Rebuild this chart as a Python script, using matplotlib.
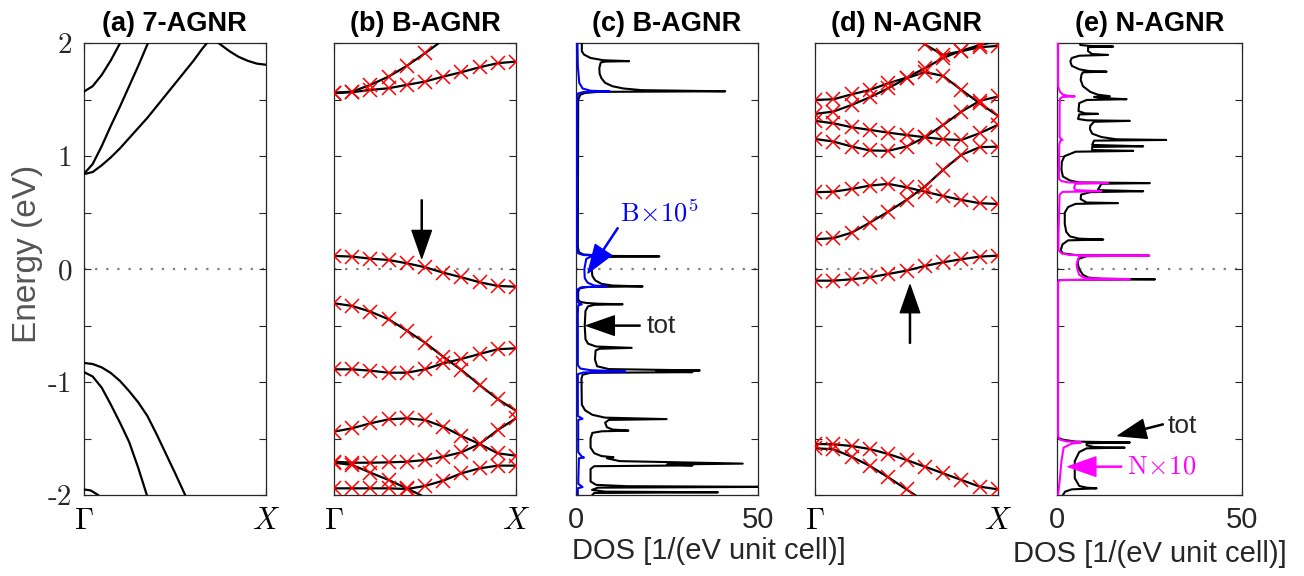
import numpy as np
import matplotlib
matplotlib.use("Agg")
import matplotlib.pyplot as plt

plt.rcParams['font.family'] = ['Liberation Sans', 'DejaVu Sans']
plt.rcParams['mathtext.fontset'] = 'cm'

# ---------------- data ----------------
# (a) pristine 7-AGNR bands: k (0=Gamma,1=X), E (eV)
a_k1 = [0, 0.05, 0.10, 0.15, 0.20, 0.25, 0.30, 0.35, 0.37]
a_e1 = [0.84, 0.93, 1.09, 1.27, 1.44, 1.62, 1.80, 1.99, 2.06]
a_k2 = [0, 0.05, 0.10, 0.15, 0.20, 0.25, 0.30, 0.35, 0.40, 0.45, 0.50, 0.55, 0.60, 0.65, 0.70]
a_e2 = [0.84, 0.86, 0.92, 0.99, 1.07, 1.16, 1.25, 1.34, 1.44, 1.54, 1.64, 1.74, 1.84, 1.95, 2.05]
a_k3 = [0, 0.05, 0.10, 0.15, 0.20, 0.22]
a_e3 = [1.57, 1.62, 1.72, 1.85, 2.00, 2.06]
a_k4 = [0.70, 0.75, 0.80, 0.85, 0.90, 0.95, 1.00]
a_e4 = [2.05, 1.99, 1.93, 1.88, 1.845, 1.82, 1.81]
a_k5 = [0, 0.05, 0.10, 0.15, 0.20, 0.25, 0.30, 0.35, 0.40, 0.45, 0.50, 0.557, 0.58]
a_e5 = [-0.83, -0.84, -0.87, -0.92, -0.99, -1.08, -1.18, -1.30, -1.46, -1.63, -1.80, -2.00, -2.08]
a_k6 = [0, 0.05, 0.10, 0.15, 0.20, 0.25, 0.30, 0.347, 0.37]
a_e6 = [-0.91, -0.95, -1.05, -1.20, -1.36, -1.53, -1.76, -2.00, -2.10]
a_k7 = [0, 0.04, 0.08, 0.10]
a_e7 = [-1.95, -1.96, -2.00, -2.03]

k11 = [0, 0.1, 0.2, 0.3, 0.4, 0.5, 0.6, 0.7, 0.8, 0.9, 1.0]

# (b) B-AGNR bands
b_c1 = [1.563, 1.572, 1.632, 1.705, 1.800, 1.912, 2.03]
b_c2 = [1.558, 1.567, 1.587, 1.602, 1.632, 1.661, 1.705, 1.744, 1.788, 1.824, 1.838]
b_v0 = [0.117, 0.111, 0.093, 0.081, 0.052, 0.017, -0.031, -0.072, -0.116, -0.149, -0.155]
b_v1 = [-0.302, -0.326, -0.376, -0.444, -0.544, -0.651, -0.775, -0.893, -1.026, -1.152, -1.253]
b_v2 = [-0.887, -0.887, -0.899, -0.917, -0.917, -0.887, -0.834, -0.795, -0.751, -0.709, -0.701]
b_v3 = [-1.439, -1.409, -1.365, -1.330, -1.321, -1.336, -1.395, -1.477, -1.548, -1.631, -1.652]
b_v4 = [-1.705, -1.714, -1.714, -1.711, -1.705, -1.690, -1.661, -1.622, -1.548, -1.424, -1.321]
b_v5 = [-1.714, -1.734, -1.802, -1.867, -1.941, -2.02]
b_v6 = [-1.941, -1.941, -1.941, -1.941, -1.947, -1.920, -1.873, -1.808, -1.764, -1.740, -1.740]

# (d) N-AGNR bands
d_c0 = [None, None, None, None, None, 2.12, 1.99, 1.897, 1.93, 1.965, 1.977]
d_c1 = [1.499, 1.504, 1.548, 1.587, 1.646, 1.696, 1.779, 1.870, 1.935, 1.985, 2.02]
d_c2 = [1.375, 1.395, 1.454, 1.522, 1.602, 1.690, 1.745, 1.711, 1.587, 1.469, 1.357]
d_c3 = [1.313, 1.292, 1.257, 1.233, 1.209, 1.188, 1.168, 1.150, 1.144, 1.204, 1.278]
d_c4 = [1.153, 1.130, 1.086, 1.051, 1.048, 1.086, 1.168, 1.277, 1.395, 1.490, 1.529]
d_c5 = [0.681, 0.686, 0.710, 0.740, 0.755, 0.725, 0.686, 0.648, 0.613, 0.584, 0.577]
d_c6 = [0.265, 0.274, 0.323, 0.412, 0.509, 0.613, 0.731, 0.879, 1.012, 1.080, 1.085]
d_v0 = [-0.102, -0.102, -0.090, -0.072, -0.043, -0.013, 0.028, 0.061, 0.088, 0.111, 0.120]
d_v1 = [-1.548, -1.551, -1.566, -1.593, -1.637, -1.690, -1.749, -1.808, -1.867, -1.926, -1.950]
d_v2 = [-1.586, -1.595, -1.661, -1.743, -1.843, -1.950, -2.06]

# (c) B-AGNR DOS: total and B-projected (x1e5)
c_tot_E = [2.00, 1.93, 1.90, 1.87, 1.85, 1.842, 1.838, 1.83, 1.78, 1.73, 1.69, 1.65, 1.62, 1.60,
           1.585, 1.575, 1.570, 1.560, 1.545, 1.50, 0.20, 0.15, 0.13, 0.118, 0.113, 0.108, 0.095,
           0.06, 0.00, -0.06, -0.10, -0.13, -0.145, -0.153, -0.158, -0.17, -0.20, -0.27, -0.29,
           -0.30, -0.306, -0.311, -0.316, -0.33, -0.37, -0.50, -0.62, -0.66, -0.685, -0.697,
           -0.705, -0.72, -0.80, -0.86, -0.885, -0.897, -0.905, -0.912, -0.918, -0.935, -0.97,
           -1.20, -1.25, -1.29, -1.315, -1.328, -1.335, -1.36, -1.40, -1.42, -1.43, -1.436, -1.45,
           -1.50, -1.58, -1.63, -1.655, -1.666, -1.675, -1.70, -1.722, -1.73, -1.738, -1.745,
           -1.77, -1.88, -1.91, -1.922, -1.928, -1.935, -1.955, -1.97, -1.976, -1.982, -2.00]
c_tot_D = [1.6, 1.6, 2.2, 4.0, 7.5, 14.6, 8.0, 6.8, 6.4, 6.5, 7.0, 8.0, 10.0, 13.0,
           18.0, 41.0, 6.0, 2.5, 1.2, 0.6, 0.5, 0.8, 2.0, 8.0, 22.9, 9.0, 6.0,
           4.7, 4.3, 4.5, 5.3, 7.0, 10.0, 18.3, 3.0, 1.0, 0.6, 0.6, 1.2,
           3.0, 6.0, 12.8, 5.0, 3.3, 2.6, 2.4, 2.6, 3.3, 5.5, 15.3,
           6.5, 5.4, 5.2, 5.8, 9.0, 34.0, 22.0, 32.0, 4.0, 1.8, 1.5,
           1.6, 2.5, 4.5, 8.0, 24.9, 9.0, 8.0, 8.5, 10.0, 14.4, 7.0, 4.5,
           4.0, 4.0, 5.0, 7.0, 10.3, 8.5, 12.0, 45.8, 25.0, 32.0, 5.0,
           4.0, 4.0, 5.5, 14.0, 55.0, 6.0, 4.4, 8.0, 39.0, 5.0, 4.5]
c_B_E = [2.00, 1.80, 1.65, 1.60, 1.58, 1.574, 1.568, 1.555, 1.45, 0.20, 0.14, 0.125, 0.117, 0.110,
         0.09, 0.0, -0.08, -0.12, -0.145, -0.153, -0.16, -0.18, -0.29, -0.305, -0.311, -0.32,
         -0.40, -0.85, -0.88, -0.895, -0.905, -0.915, -0.93, -1.30, -1.325, -1.335, -1.62,
         -1.66, -1.668, -1.675, -1.90, -1.93, -1.94, -2.00]
c_B_D = [0.4, 0.5, 0.9, 1.8, 4.0, 9.3, 2.0, 0.5, 0.3, 0.3, 0.6, 2.0, 9.5, 4.0,
         2.8, 2.3, 2.4, 3.2, 5.0, 8.4, 1.5, 0.4, 0.4, 1.0, 1.6, 0.6,
         0.5, 0.5, 1.2, 4.0, 13.5, 2.0, 0.5, 0.5, 1.8, 0.6, 0.6,
         1.6, 2.2, 0.8, 0.6, 1.8, 0.5, 0.5]

# (e) N-AGNR DOS: total and N-projected (x10)
e_tot_E = [2.00, 1.985, 1.976, 1.971, 1.966, 1.93, 1.905, 1.897, 1.89, 1.87, 1.84, 1.80, 1.77,
           1.755, 1.749, 1.743, 1.72, 1.676, 1.62, 1.57, 1.545, 1.531, 1.525, 1.515, 1.505, 1.498,
           1.47, 1.40, 1.38, 1.375, 1.37, 1.33, 1.318, 1.313, 1.305, 1.27, 1.24, 1.20, 1.17, 1.15,
           1.144, 1.138, 1.10, 1.088, 1.082, 1.055, 1.047, 1.040, 1.00, 0.95, 0.88, 0.82, 0.785,
           0.768, 0.762, 0.756, 0.70, 0.69, 0.682, 0.66, 0.62, 0.59, 0.585, 0.578, 0.55, 0.50,
           0.40, 0.33, 0.29, 0.27, 0.262, 0.255, 0.22, 0.17, 0.14, 0.125, 0.12, 0.115, 0.09, 0.05,
           0.0, -0.05, -0.075, -0.085, -0.09, -0.096, -0.105, -1.49, -1.51, -1.527, -1.535,
           -1.542, -1.56, -1.575, -1.581, -1.587, -1.62, -1.70, -1.85, -1.92, -1.935, -1.941,
           -1.95, -1.97, -2.00]
e_tot_D = [6.2, 6.3, 9.0, 15.2, 8.4, 8.4, 9.5, 13.8, 6.0, 4.0, 3.6, 4.0, 6.0,
           8.5, 13.4, 7.0, 6.6, 6.4, 7.0, 9.0, 11.0, 14.3, 10.0, 12.0, 18.8, 8.0,
           6.0, 5.8, 7.5, 11.1, 6.0, 5.7, 8.0, 19.7, 10.0, 9.0, 8.9, 9.5, 12.0, 16.0,
           29.5, 10.0, 9.5, 23.3, 9.5, 9.5, 20.6, 5.0, 2.0, 1.3, 1.2, 1.6, 3.5,
           6.0, 25.1, 12.0, 11.0, 23.3, 9.0, 6.5, 6.4, 8.0, 16.5, 5.0, 3.0, 2.1,
           2.1, 2.5, 3.5, 6.0, 12.5, 3.0, 1.5, 1.0, 1.5, 5.0, 24.9, 8.0, 5.8, 5.6,
           6.0, 7.0, 8.5, 12.0, 26.5, 1.0, 0.1, 0.1, 1.5, 5.0, 19.7,
           8.0, 8.0, 10.0, 18.3, 8.0, 6.0, 4.8, 4.8, 6.0, 8.0, 10.7,
           4.0, 2.2, 1.6]
e_N_E = [2.00, 1.62, 1.57, 1.545, 1.535, 1.530, 1.525, 1.51, 1.45, 1.17, 1.15, 1.144, 1.138, 1.10,
         0.80, 0.78, 0.768, 0.762, 0.756, 0.72, 0.70, 0.69, 0.684, 0.66, 0.30, 0.17, 0.14, 0.125,
         0.12, 0.115, 0.08, 0.04, 0.0, -0.05, -0.08, -0.09, -0.097, -0.11, -1.48, -1.51, -1.525,
         -1.535, -1.545, -1.58, -1.70, -1.85, -2.00]
e_N_D = [0.3, 0.3, 0.8, 1.6, 3.0, 4.8, 1.5, 0.8, 0.7, 0.7, 1.2, 1.5, 0.9, 0.6,
         0.5, 1.2, 3.0, 13.8, 5.0, 4.6, 5.0, 12.0, 1.5, 0.7, 0.4, 0.4, 1.2, 3.5,
         24.9, 6.0, 5.6, 5.3, 5.5, 6.0, 7.5, 19.7, 0.8, 0.3, 0.3, 0.8, 2.5,
         6.5, 4.0, 1.8, 1.2, 0.8, 0.3]

titles = ['(a) 7-AGNR', '(b) B-AGNR', '(c) B-AGNR', '(d) N-AGNR', '(e) N-AGNR']
ytick_vals = [-2, -1.5, -1, -0.5, 0, 0.5, 1, 1.5, 2]
ytick_text = ['-2', '', '-1', '', '0', '', '1', '', '2']

# ---------------- figure ----------------
W, H = 1304, 576
fig = plt.figure(figsize=(W / 100, H / 100), dpi=100)

def ax_at(l, r, t=43.3, b=495.0):
    return fig.add_axes([l / W, (H - b) / H, (r - l) / W, (b - t) / H])

axs = [ax_at(83.5, 266), ax_at(334, 516), ax_at(576, 758), ax_at(815, 998), ax_at(1057, 1242)]

TXT = '#262626'

for i, ax in enumerate(axs):
    ax.set_ylim(-2, 2)
    ax.set_yticks(ytick_vals)
    if i == 0:
        ax.set_yticklabels(ytick_text, fontfamily='cmr10')
    else:
        ax.set_yticklabels([])
    ax.tick_params(direction='in', length=5, width=0.8, right=True, top=True,
                   labelsize=21, colors=TXT, pad=8)
    for s in ax.spines.values():
        s.set_color(TXT)
        s.set_linewidth(0.9)
    ax.set_title(titles[i], fontsize=19.5, fontweight='bold', pad=9, color='k')
    ax.axhline(0, color='#7f7f7f', lw=1.6, ls=(0, (1, 4)), zorder=1)

# band panels
def band(ax, k, e, marks=True):
    k = np.asarray(k, float)
    e = np.array([np.nan if v is None else v for v in e], float)
    ok = ~np.isnan(e)
    ax.plot(k[ok], e[ok], color='k', lw=1.6, zorder=3)
    if marks:
        m = ok & (e <= 2.0) & (e >= -2.0)
        ax.plot(k[m], e[m], ls='none', marker='x', color='red', ms=10, mew=1.1, zorder=4)

for kk, ee in [(a_k1, a_e1), (a_k2, a_e2), (a_k3, a_e3), (a_k4, a_e4),
               (a_k5, a_e5), (a_k6, a_e6), (a_k7, a_e7)]:
    band(axs[0], kk, ee, marks=False)

for ee in [b_c1, b_c2, b_v0, b_v1, b_v2, b_v3, b_v4, b_v5, b_v6]:
    band(axs[1], k11[:len(ee)], ee)

for ee in [d_c0, d_c1, d_c2, d_c3, d_c4, d_c5, d_c6, d_v0, d_v1, d_v2]:
    band(axs[3], k11[:len(ee)], ee)

for i in (0, 1, 3):
    ax = axs[i]
    ax.set_xlim(0, 1)
    ax.set_xticks([0, 1])
    ax.set_xticklabels([r'$\Gamma$', r'$X$'])
    ax.tick_params(axis='x', labelsize=22, pad=8, colors='k')

# DOS panels
axs[2].plot(c_tot_D, c_tot_E, color='k', lw=1.5, zorder=3)
axs[2].plot(c_B_D, c_B_E, color='#0000ff', lw=1.5, zorder=4)
axs[4].plot(e_tot_D, e_tot_E, color='k', lw=1.5, zorder=3)
axs[4].plot(e_N_D, e_N_E, color='#ff00ff', lw=1.5, zorder=4)

for i in (2, 4):
    ax = axs[i]
    ax.set_xlim(0, 50)
    ax.set_xticks([0, 50])
    ax.set_xticklabels(['0', '50'])

xl = 'DOS [1/(eV unit cell)]'
fig.text(572 / W, 1 - 551 / H, xl, fontsize=21, color=TXT, ha='left', va='center')
axs[4].set_xlabel(xl, fontsize=21, color=TXT, labelpad=4)

fig.text(28 / W, 1 - 254 / H, 'Energy (eV)', rotation=90, fontsize=24, color='#555555',
         ha='center', va='center')

# annotations
def arrow(ax, tail, tip, color):
    ax.annotate('', xy=tip, xytext=tail,
                arrowprops=dict(facecolor=color, edgecolor=color, width=0.8,
                                headwidth=14, headlength=20, shrink=0), zorder=6)

arrow(axs[1], (0.482, 0.613), (0.482, 0.097), 'k')
arrow(axs[3], (0.519, -0.656), (0.519, -0.14), 'k')

arrow(axs[2], (11.5, 0.365), (3.3, -0.034), '#0000ff')
axs[2].text(23.0, 0.50, r'$\mathrm{B}\!\times\!10^5$', color='#0000ff', fontsize=19,
            ha='center', va='center')
arrow(axs[2], (17.6, -0.50), (2.9, -0.50), 'k')
axs[2].text(19.3, -0.50, 'tot', fontsize=19, color=TXT, ha='left', va='center')

arrow(axs[4], (28.7, -1.374), (16.5, -1.475), 'k')
axs[4].text(30.0, -1.39, 'tot', fontsize=19, color=TXT, ha='left', va='center')
arrow(axs[4], (17.5, -1.749), (3.0, -1.749), '#ff00ff')
axs[4].text(18.9, -1.749, r'$\mathrm{N}\!\times\!10$', color='#ff00ff', fontsize=19,
            ha='left', va='center')

fig.savefig('out.png', dpi=100)
